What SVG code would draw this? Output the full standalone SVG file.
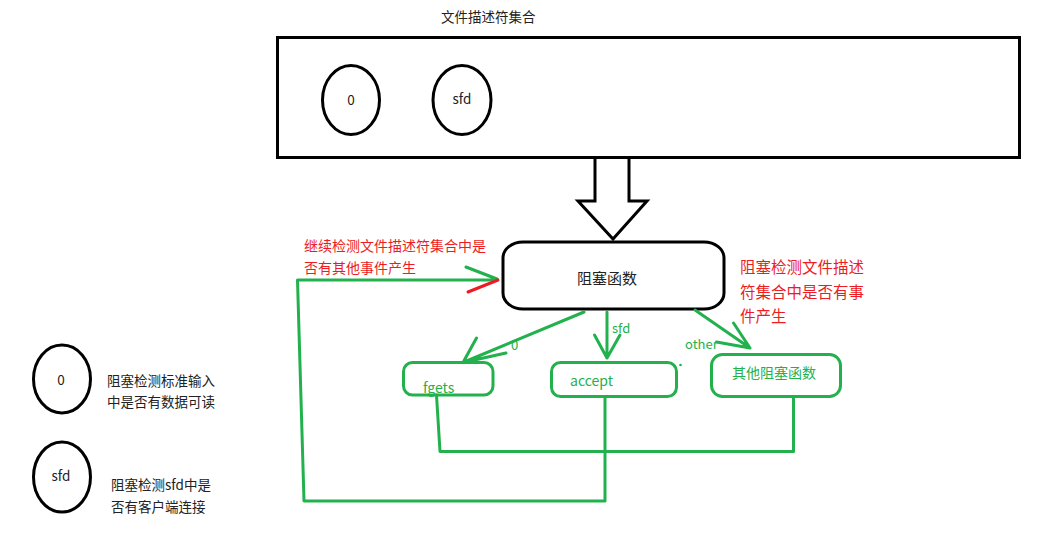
<svg xmlns="http://www.w3.org/2000/svg" width="1056" height="537" viewBox="0 0 1056 537">
<style>
text{font-family:"Noto Sans CJK SC","Noto Sans",sans-serif;}
.blk{fill:none;stroke:#000;stroke-width:3}
.g{fill:none;stroke:#22b14c;stroke-width:3;stroke-linecap:round;stroke-linejoin:round}
.gt{fill:#22b14c;font-size:14px}
.rt{fill:#ed1c24;font-size:14px}
.kt{fill:#222;font-size:13.5px}
</style>
<rect width="1056" height="537" fill="#fff"/>
<g id="fdset">
<text class="kt" x="441" y="21.5">文件描述符集合</text>
<rect class="blk" x="277.5" y="37.5" width="742" height="120"/>
</g>
<g id="fd0">
<ellipse class="blk" cx="351" cy="100" rx="28.5" ry="34.5"/>
<text class="kt" x="351" y="105" text-anchor="middle">0</text>
</g>
<g id="fdsfd">
<ellipse class="blk" cx="462" cy="100" rx="29" ry="34.5"/>
<text class="kt" x="462" y="104" text-anchor="middle">sfd</text>
</g>
<g id="bigarrow">
<path d="M595,159 V201 H578 L613,239 L647,201 H629 V159" fill="#fff" stroke="#000" stroke-width="3" stroke-linejoin="miter"/>
</g>
<g id="block">
<rect class="blk" x="503" y="242" width="221" height="67" rx="20" ry="16" fill="#fff"/>
<text x="577" y="283.5" style="font-size:15px;fill:#222">阻塞函数</text>
</g>
<g id="note-left">
<text class="rt" x="304" y="251">继续检测文件描述符集合中是</text>
<text class="rt" x="304" y="273">否有其他事件产生</text>
</g>
<g id="note-right">
<text class="rt" x="740" y="272.5" style="font-size:15.5px">阻塞检测文件描述</text>
<text class="rt" x="740" y="297.5" style="font-size:15.5px">符集合中是否有事</text>
<text class="rt" x="740" y="321.5" style="font-size:15.5px">件产生</text>
</g>
<g id="fgets">
<rect class="g" x="403.5" y="362.5" width="89.5" height="32.5" rx="9"/>
<text class="gt" x="423" y="393">fgets</text>
</g>
<g id="accept">
<rect class="g" x="551.5" y="362.5" width="125" height="34" rx="9"/>
<text class="gt" x="570" y="386">accept</text>
</g>
<g id="other">
<rect class="g" x="711.5" y="354.5" width="129" height="42" rx="11"/>
<text class="gt" x="732" y="378">其他阻塞函数</text>
</g>
<g id="connectors">
<path class="g" d="M584,312 L463,362.5 M476.5,338 L463,362.5 L506,353"/>
<text class="gt" x="511" y="350" style="font-size:13px">0</text>
<path class="g" d="M607,312 V358 M594.5,335 L607,358 L620,335"/>
<text class="gt" x="612" y="333" style="font-size:13px">sfd</text>
<path class="g" d="M695,310 L750,348 M733.5,323 L750,348 L716.5,342"/>
<text class="gt" x="685" y="349" style="font-size:13px">other</text>
<circle cx="680.5" cy="365" r="1.3" fill="#22b14c"/>
<path class="g" d="M436.5,395 L440,451.5 H793.5 V397"/>
<path class="g" d="M605,397 V501 H304 L297.5,280 H497 M466,267 L497,279"/>
<path d="M468,292 L498,280" stroke="#ed1c24" stroke-width="3" stroke-linecap="round"/>
</g>
<g id="legend0">
<ellipse class="blk" cx="62" cy="379" rx="28.5" ry="34"/>
<text class="kt" x="61" y="385" text-anchor="middle">0</text>
<text class="kt" x="107" y="386">阻塞检测标准输入</text>
<text class="kt" x="107" y="407">中是否有数据可读</text>
</g>
<g id="legendsfd">
<ellipse class="blk" cx="62" cy="477" rx="28.5" ry="35"/>
<text class="kt" x="61" y="481" text-anchor="middle">sfd</text>
<text class="kt" x="111" y="490">阻塞检测sfd中是</text>
<text class="kt" x="111" y="512">否有客户端连接</text>
</g>
</svg>
